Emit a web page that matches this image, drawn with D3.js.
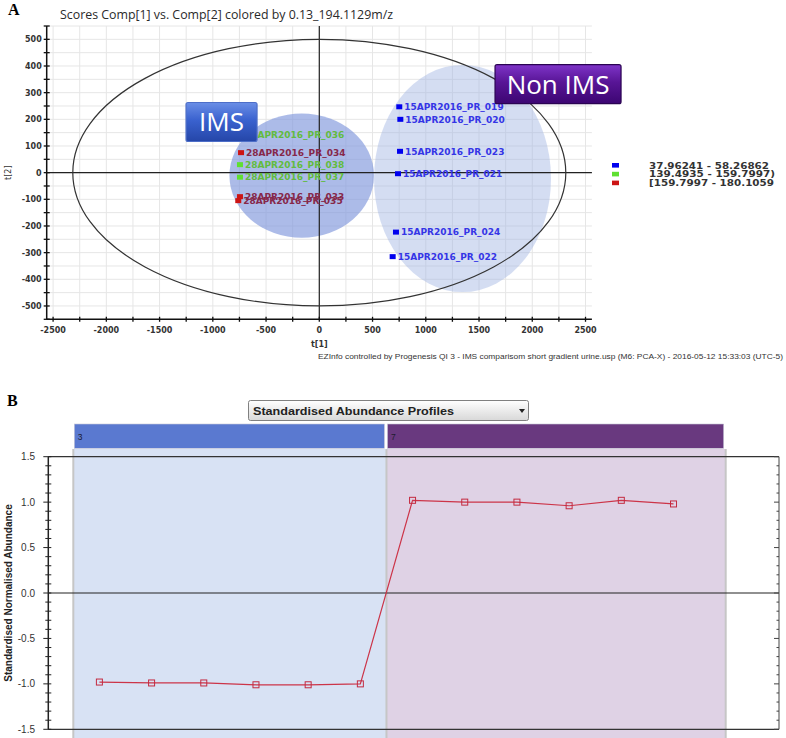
<!DOCTYPE html>
<html lang="en">
<head>
<meta charset="utf-8">
<title>Scores and abundance profile</title>
<script src="https://cdnjs.cloudflare.com/ajax/libs/d3/7.8.5/d3.min.js"></script>
<style>
  body { margin: 0; background: white; }
  svg { display: block; }
</style>
</head>
<body>
<div id="chart"></div>
<script>
// ---- panel A data: PCA scores ----
const sampleNames = ["15APR2016_PR_019", "15APR2016_PR_020", "15APR2016_PR_023", "15APR2016_PR_021",
                     "15APR2016_PR_024", "15APR2016_PR_022", "28APR2016_PR_036", "28APR2016_PR_034",
                     "28APR2016_PR_038", "28APR2016_PR_037", "28APR2016_PR_033", "28APR2016_PR_035"];
const scoreT1 = [751, 761, 758, 739, 720, 689, -745, -735, -745, -745, -745, -761];
const scoreT2 = [247, 200, 80, -4, -223, -315, 144, 75, 30, -17, -90, -105];
const sampleBin = [0, 0, 0, 0, 0, 0, 1, 2, 1, 1, 2, 2];

const binLabels = ["37.96241 - 58.26862", "139.4935 - 159.7997)", "[159.7997 - 180.1059"];

// group ellipses (t[1], t[2] units)
const groupNames = ["Non IMS", "IMS"];
const groupCx = [1345, -165];
const groupCy = [-22, -11];
const groupRx = [831, 679];
const groupRy = [426, 233];

// Hotelling T2 ellipse
const hotellingRx = 2315;
const hotellingRy = 500;

const scoreXTicks = [-2500, -2000, -1500, -1000, -500, 0, 500, 1000, 1500, 2000, 2500];
const scoreYTicks = [-500, -400, -300, -200, -100, 0, 100, 200, 300, 400, 500];

// callout boxes
const calloutText = ["IMS", "Non IMS"];
const calloutT1 = [-918, 2242];
const calloutT2 = [190, 332];

// ---- panel B data: standardised abundance ----
const conditionLabels = ["3", "7"];
const conditionStart = [-0.5, 5.5];
const conditionEnd = [5.5, 12];
const abundance = [-0.98, -0.99, -0.99, -1.01, -1.01, -1.00, 1.02, 1.00, 1.00, 0.96, 1.02, 0.98];
const profileYTicks = [-1.5, -1.0, -0.5, 0.0, 0.5, 1.0, 1.5];

const width = 786, height = 738;
const binColors = ["#0000ee", "#5fe030", "#cc1414"];
const binTextColors = ["#3535e6", "#62bb3e", "#86284a"];

const svg = d3.select("#chart").append("svg")
    .attr("width", width).attr("height", height);

const defs = svg.append("defs");
function vGrad(id, stops) {
    const g = defs.append("linearGradient").attr("id", id)
        .attr("x1", 0).attr("y1", 0).attr("x2", 0).attr("y2", 1);
    stops.forEach(s => g.append("stop").attr("offset", s[0]).attr("stop-color", s[1]));
}
vGrad("imsGrad", [[0, "#6a8ee6"], [0.45, "#3a62cf"], [1, "#2546a8"]]);
vGrad("nonGrad", [[0, "#7e34c8"], [0.45, "#581596"], [1, "#3c0672"]]);
vGrad("dropGrad", [[0, "#ffffff"], [1, "#d8d8d8"]]);

// ================= Panel A =================
const xA = d3.scaleLinear().domain([-2560, 2560]).range([46.7, 591.9]);
const yA = d3.scaleLinear().domain([-550, 550]).range([319.3, 26]);

const gA = svg.append("g");

svg.append("text").attr("x", 8).attr("y", 15)
    .attr("font-family", "Liberation Serif").attr("font-weight", "bold").attr("font-size", 16)
    .text("A");

gA.append("text").attr("x", 60).attr("y", 19)
    .attr("font-family", "Open Sans").attr("font-size", 13.5).attr("fill", "#2a2a2a")
    .attr("textLength", 333).attr("lengthAdjust", "spacingAndGlyphs")
    .text("Scores Comp[1] vs. Comp[2] colored by 0.13_194.1129m/z");

// grid
gA.append("g").selectAll("line").data(d3.range(-2500, 2501, 250)).join("line")
    .attr("x1", d => xA(d)).attr("x2", d => xA(d))
    .attr("y1", yA(550)).attr("y2", yA(-550))
    .attr("stroke", "#e6e6e6");
gA.append("g").selectAll("line").data(d3.range(-500, 551, 50)).join("line")
    .attr("x1", xA(-2560)).attr("x2", xA(2560))
    .attr("y1", d => yA(d)).attr("y2", d => yA(d))
    .attr("stroke", "#e6e6e6");

// group ellipses
const groupFill = ["#9fb3e3", "#7f96dc"];
const groupOpacity = [0.45, 0.65];
gA.append("g").selectAll("ellipse").data(groupNames).join("ellipse")
    .attr("cx", (d, i) => xA(groupCx[i]))
    .attr("cy", (d, i) => yA(groupCy[i]))
    .attr("rx", (d, i) => xA(groupRx[i]) - xA(0))
    .attr("ry", (d, i) => yA(0) - yA(groupRy[i]))
    .attr("fill", (d, i) => groupFill[i])
    .attr("fill-opacity", (d, i) => groupOpacity[i]);

// zero lines
gA.append("line").attr("x1", xA(-2560)).attr("x2", xA(2560))
    .attr("y1", yA(0)).attr("y2", yA(0)).attr("stroke", "#222").attr("stroke-width", 1.2);
gA.append("line").attr("x1", xA(0)).attr("x2", xA(0))
    .attr("y1", yA(550)).attr("y2", yA(-550)).attr("stroke", "#222").attr("stroke-width", 1.2);

// Hotelling ellipse
gA.append("ellipse").attr("cx", xA(0)).attr("cy", yA(0))
    .attr("rx", xA(hotellingRx) - xA(0)).attr("ry", yA(0) - yA(hotellingRy))
    .attr("fill", "none").attr("stroke", "#333").attr("stroke-width", 1.2);

// points + labels
const pts = gA.append("g").selectAll("g").data(sampleNames).join("g")
    .attr("transform", (d, i) => `translate(${xA(scoreT1[i])},${yA(scoreT2[i])})`);
pts.append("rect").attr("x", -3).attr("y", -2.5).attr("width", 6).attr("height", 5)
    .attr("fill", (d, i) => binColors[sampleBin[i]]);
pts.append("text").attr("x", 5).attr("y", 3.3)
    .attr("font-family", "DejaVu Sans").attr("font-weight", "bold").attr("font-size", 9)
    .attr("fill", (d, i) => binTextColors[sampleBin[i]])
    .text(d => d);

// axes
const axisX = gA.append("g").attr("transform", `translate(0,${yA(-550)})`);
axisX.append("line").attr("x1", xA(-2560)).attr("x2", xA(2560)).attr("stroke", "#111").attr("stroke-width", 1.5);
axisX.selectAll(".t").data(d3.range(-2500, 2501, 250)).join("line")
    .attr("x1", d => xA(d)).attr("x2", d => xA(d)).attr("y1", -2.5).attr("y2", 2.5)
    .attr("stroke", "#111").attr("stroke-width", 1.3);
axisX.selectAll("text").data(scoreXTicks).join("text")
    .attr("x", d => xA(d)).attr("y", 14).attr("text-anchor", "middle")
    .attr("font-family", "DejaVu Sans").attr("font-weight", "bold").attr("font-size", 8).attr("fill", "#333")
    .text(d => d);

const axisY = gA.append("g").attr("transform", `translate(${xA(-2560)},0)`);
axisY.append("line").attr("y1", yA(550)).attr("y2", yA(-550)).attr("stroke", "#111").attr("stroke-width", 1.5);
axisY.selectAll(".t").data(d3.range(-550, 551, 50)).join("line")
    .attr("y1", d => yA(d)).attr("y2", d => yA(d)).attr("x1", -3).attr("x2", 3)
    .attr("stroke", "#111").attr("stroke-width", 1.3);
axisY.selectAll("text").data(scoreYTicks).join("text")
    .attr("x", -5).attr("y", d => yA(d) + 3).attr("text-anchor", "end")
    .attr("font-family", "DejaVu Sans").attr("font-weight", "bold").attr("font-size", 8).attr("fill", "#333")
    .text(d => d);

gA.append("text").attr("x", xA(0)).attr("y", 347).attr("text-anchor", "middle")
    .attr("font-family", "DejaVu Sans").attr("font-weight", "bold").attr("font-size", 8).attr("fill", "#333")
    .text("t[1]");
gA.append("text").attr("transform", `translate(11,${yA(0)}) rotate(-90)`).attr("text-anchor", "middle")
    .attr("font-family", "DejaVu Sans").attr("font-size", 8).attr("fill", "#333")
    .text("t[2]");

gA.append("text").attr("x", 318).attr("y", 359)
    .attr("font-family", "Liberation Sans").attr("font-size", 8).attr("fill", "#333")
    .attr("textLength", 465).attr("lengthAdjust", "spacingAndGlyphs")
    .text("EZInfo controlled by Progenesis QI 3 - IMS comparisom short gradient urine.usp (M6: PCA-X) - 2016-05-12 15:33:03 (UTC-5)");

// legend
const leg = gA.append("g").selectAll("g").data(binLabels).join("g")
    .attr("transform", (d, i) => `translate(612,${165.3 + i * 8.8})`);
leg.append("rect").attr("x", 0).attr("y", -2.3).attr("width", 7).attr("height", 4.6)
    .attr("fill", (d, i) => binColors[i]);
leg.append("text").attr("x", 37).attr("y", 3.2)
    .attr("font-family", "DejaVu Sans").attr("font-weight", "bold").attr("font-size", 8.4).attr("fill", "#333")
    .attr("textLength", (d, i) => [120, 126, 125][i]).attr("lengthAdjust", "spacingAndGlyphs")
    .text(d => d);

// callout boxes
const boxW = [71, 126], boxH = [39, 39];
const boxFill = ["url(#imsGrad)", "url(#nonGrad)"];
const boxStroke = ["#4d6ec8", "#2a0352"];
const callouts = gA.append("g").selectAll("g").data(calloutText).join("g")
    .attr("transform", (d, i) => `translate(${xA(calloutT1[i])},${yA(calloutT2[i])})`);
callouts.append("rect")
    .attr("x", (d, i) => -boxW[i] / 2).attr("y", (d, i) => -boxH[i] / 2)
    .attr("width", (d, i) => boxW[i]).attr("height", (d, i) => boxH[i])
    .attr("rx", 2)
    .attr("fill", (d, i) => boxFill[i]).attr("stroke", (d, i) => boxStroke[i]).attr("stroke-width", 1.2);
callouts.append("text").attr("x", 0).attr("y", 9.5).attr("text-anchor", "middle")
    .attr("font-family", "Open Sans").attr("font-size", 26).attr("fill", "white")
    .text(d => d);

// ================= Panel B =================
const xB = d3.scaleLinear().domain([-0.5, 12]).range([73.3, 725.7]);
const yB = d3.scaleLinear().domain([-1.5, 1.5]).range([729.3, 456.7]);
const frameL = 48.3, frameR = 779;

const gB = svg.append("g");

svg.append("text").attr("x", 7).attr("y", 406)
    .attr("font-family", "Liberation Serif").attr("font-weight", "bold").attr("font-size", 16)
    .text("B");

// dropdown
gB.append("rect").attr("x", 248.5).attr("y", 400.5).attr("width", 280).attr("height", 20).attr("rx", 2)
    .attr("fill", "url(#dropGrad)").attr("stroke", "#808080");
gB.append("text").attr("x", 253).attr("y", 415)
    .attr("font-family", "Liberation Sans").attr("font-weight", "bold").attr("font-size", 11.5).attr("fill", "#222")
    .attr("textLength", 201).attr("lengthAdjust", "spacingAndGlyphs")
    .text("Standardised Abundance Profiles");
gB.append("path").attr("d", "M519,409 L525,409 L522,413 Z").attr("fill", "#222");

// condition bands and headers
const headColor = ["#5a79d0", "#69397f"];
const bandColor = ["#d8e2f4", "#dfd2e5"];
gB.append("g").selectAll("rect").data(conditionLabels).join("rect")
    .attr("x", (d, i) => xB(conditionStart[i])).attr("y", 449)
    .attr("width", (d, i) => xB(conditionEnd[i]) - xB(conditionStart[i])).attr("height", height - 449)
    .attr("fill", (d, i) => bandColor[i]);
gB.append("g").selectAll("rect").data(conditionLabels).join("rect")
    .attr("x", (d, i) => xB(conditionStart[i]) + 1).attr("y", 424)
    .attr("width", (d, i) => xB(conditionEnd[i]) - xB(conditionStart[i]) - 3).attr("height", 24.3)
    .attr("fill", (d, i) => headColor[i]).attr("stroke", "#c8c8d8").attr("stroke-width", 0.6);
gB.append("g").selectAll("text").data(conditionLabels).join("text")
    .attr("x", (d, i) => xB(conditionStart[i]) + 4.5).attr("y", 440)
    .attr("font-family", "Liberation Sans").attr("font-size", 8.5).attr("fill", "#1c1c30")
    .text(d => d);
gB.append("g").selectAll("line").data([conditionStart[0], conditionEnd[0], conditionEnd[1]]).join("line")
    .attr("x1", d => xB(d)).attr("x2", d => xB(d)).attr("y1", 449).attr("y2", height)
    .attr("stroke", "#c6c6c6").attr("stroke-width", 2);

// frame
gB.append("line").attr("x1", frameL).attr("x2", frameR).attr("y1", yB(1.5)).attr("y2", yB(1.5))
    .attr("stroke", "#333").attr("stroke-width", 1.2);
gB.append("line").attr("x1", frameL).attr("x2", frameR).attr("y1", yB(-1.5)).attr("y2", yB(-1.5))
    .attr("stroke", "#333").attr("stroke-width", 1.2);
gB.append("line").attr("x1", frameL).attr("x2", frameR).attr("y1", yB(0)).attr("y2", yB(0))
    .attr("stroke", "#222").attr("stroke-width", 1.2);
gB.append("line").attr("x1", frameL).attr("x2", frameL).attr("y1", yB(1.5)).attr("y2", yB(-1.5))
    .attr("stroke", "#222").attr("stroke-width", 1.5);
gB.append("line").attr("x1", frameR).attr("x2", frameR).attr("y1", yB(1.5)).attr("y2", yB(-1.5))
    .attr("stroke", "#444").attr("stroke-width", 1);

const minorB = d3.range(-15, 16).map(d => d / 10);
gB.append("g").selectAll("line").data(minorB).join("line")
    .attr("x1", d => frameL - (d * 2 % 1 === 0 ? 5 : 3)).attr("x2", frameL + 3)
    .attr("y1", d => yB(d)).attr("y2", d => yB(d)).attr("stroke", "#222");
gB.append("g").selectAll("line").data(minorB).join("line")
    .attr("x1", d => frameR - (d * 2 % 1 === 0 ? 5 : 2.5)).attr("x2", frameR)
    .attr("y1", d => yB(d)).attr("y2", d => yB(d)).attr("stroke", "#444");
gB.append("g").selectAll("text").data(profileYTicks).join("text")
    .attr("x", 35).attr("y", d => yB(d) + 3.5).attr("text-anchor", "end")
    .attr("font-family", "Liberation Sans").attr("font-size", 10).attr("fill", "#333")
    .text(d => d.toFixed(1));

gB.append("text").attr("transform", `translate(11.5,${yB(0)}) rotate(-90)`).attr("text-anchor", "middle")
    .attr("font-family", "Liberation Sans").attr("font-weight", "bold").attr("font-size", 10).attr("fill", "#222")
    .text("Standardised Normalised Abundance");

// profile line
const line = d3.line().x((d, i) => xB(i)).y(d => yB(d));
gB.append("path").datum(abundance).attr("d", line)
    .attr("fill", "none").attr("stroke", "#cc3448").attr("stroke-width", 1.2);
gB.append("g").selectAll("rect").data(abundance).join("rect")
    .attr("x", (d, i) => xB(i) - 3).attr("y", d => yB(d) - 3)
    .attr("width", 6).attr("height", 6)
    .attr("fill", "none").attr("stroke", "#c42a40").attr("stroke-width", 1);
</script>
</body>
</html>
